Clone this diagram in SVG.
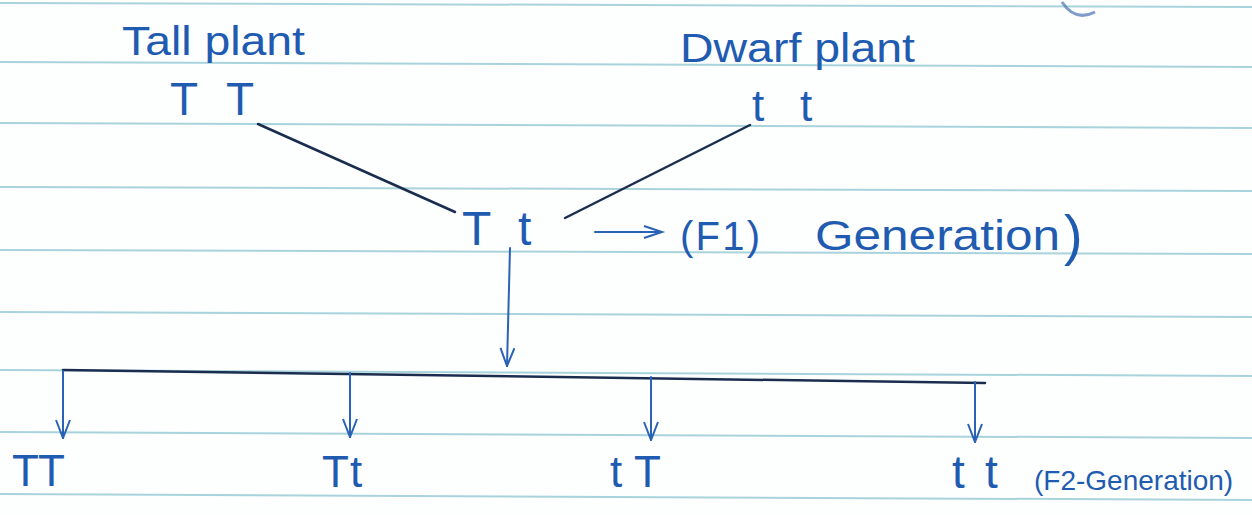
<svg xmlns="http://www.w3.org/2000/svg" width="1252" height="515" viewBox="0 0 1252 515">
<defs>
<style>
.rule{stroke:#a9d3dc;stroke-width:2;fill:none}
.ink{fill:#1f5bb0;font-family:"Liberation Sans",Arial,sans-serif}
.dark{stroke:#1b2d4f;stroke-width:2.5;fill:none;stroke-linecap:round}
.blue{stroke:#2a62b5;stroke-width:2;fill:none;stroke-linecap:round}
</style>
<marker id="v" viewBox="0 0 20 16" refX="19" refY="8" markerWidth="20" markerHeight="16" markerUnits="userSpaceOnUse" orient="auto">
<path d="M1,1 L19,8 L1,15" fill="none" stroke="#2a62b5" stroke-width="2"/>
</marker>
</defs>
<rect width="1252" height="515" fill="#fdfefe"/>
<g id="paper">
<path class="rule" d="M0,3 L1252,7"/>
<path class="rule" d="M0,62 L1252,67"/>
<path class="rule" d="M0,123 L1252,128"/>
<path class="rule" d="M0,187 L1252,191"/>
<path class="rule" d="M0,250 L1252,254"/>
<path class="rule" d="M0,312 L1252,317"/>
<path class="rule" d="M0,370 L1252,376"/>
<path class="rule" d="M0,432 L1252,438"/>
<path class="rule" d="M0,494 L1252,500"/>
<path d="M1062,2 Q1075,22 1095,12" stroke="#4a72b0" stroke-width="3" fill="none" opacity="0.7"/>
</g>
<g id="connectors">
<path class="dark" d="M258,124 L455,212"/>
<path class="dark" d="M750,125 L565,218"/>
<path class="dark" d="M63,370 L985,383"/>
<path class="blue" d="M595,232 L660,232"/>
<path d="M644,226 L662,232 L644,238" fill="none" stroke="#2a62b5" stroke-width="2"/>
<path class="blue" d="M510,248 L507,366" marker-end="url(#v)"/>
<path class="blue" d="M63,371 L63,438" marker-end="url(#v)"/>
<path class="blue" d="M350,373 L350,437" marker-end="url(#v)"/>
<path class="blue" d="M651,377 L651,440" marker-end="url(#v)"/>
<path class="blue" d="M975,382 L975,442" marker-end="url(#v)"/>
</g>
<g id="tall">
<text class="ink" x="122" y="55" font-size="40" textLength="183" lengthAdjust="spacingAndGlyphs">Tall plant</text>
<text class="ink" x="170 226" y="115" font-size="46">TT</text>
</g>
<g id="dwarf">
<text class="ink" x="680" y="62" font-size="40" textLength="235" lengthAdjust="spacingAndGlyphs">Dwarf plant</text>
<text class="ink" x="752 800" y="121" font-size="44">tt</text>
</g>
<g id="f1">
<text class="ink" x="462 518" y="245" font-size="48">Tt</text>
<text class="ink" x="680" y="250" font-size="40" textLength="80" lengthAdjust="spacing">(F1)</text>
<text class="ink" x="815" y="250" font-size="42" textLength="245" lengthAdjust="spacingAndGlyphs">Generation</text>
<text class="ink" x="1064" y="254" font-size="56">)</text>
</g>
<g id="f2-TT"><text class="ink" x="12 38" y="486" font-size="44">TT</text></g>
<g id="f2-Tt"><text class="ink" x="322 350" y="487" font-size="44">Tt</text></g>
<g id="f2-tT"><text class="ink" x="610 634" y="487" font-size="44">tT</text></g>
<g id="f2-tt">
<text class="ink" x="952 985" y="488" font-size="46">tt</text>
<text class="ink" x="1034" y="490" font-size="28">(F2-Generation)</text>
</g>
</svg>
